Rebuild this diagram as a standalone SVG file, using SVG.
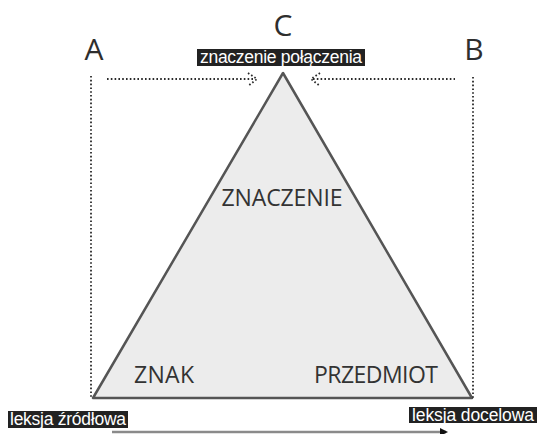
<svg xmlns="http://www.w3.org/2000/svg" width="537" height="434" viewBox="0 0 537 434">
  <style>
    .big { font-family: "Open Sans", "DejaVu Sans", sans-serif; font-size: 30px; fill: #2e2e2e; text-anchor: middle; }
    .term { font-family: "Open Sans", "DejaVu Sans", sans-serif; font-size: 23px; fill: #333; }
    .tag { font-family: "Liberation Sans", Arial, sans-serif; font-size: 17.5px; fill: #fff; }
    .tagbox { fill: #222; }
    .dots { fill: none; stroke: #2a2a2a; stroke-width: 1.8; stroke-dasharray: 1.6 2.2; }
  </style>
  <defs>
    <marker id="head" markerWidth="8" markerHeight="8" refX="6" refY="4" orient="auto" markerUnits="userSpaceOnUse">
      <path d="M0,0 L8,4 L0,8 Z" fill="#111"/>
    </marker>
  </defs>

  <!-- semantic triangle -->
  <g id="triangle">
    <polygon points="283,73 93,398 472,398" fill="#ececec" stroke="#555" stroke-width="2.5" stroke-linejoin="round"/>
    <text class="term" x="282" y="206" text-anchor="middle" textLength="121">ZNACZENIE</text>
    <text class="term" x="134" y="383" textLength="60">ZNAK</text>
    <text class="term" x="314" y="383" textLength="124">PRZEDMIOT</text>
  </g>

  <!-- corner letters -->
  <g id="label-a"><text class="big" x="94" y="60">A</text></g>
  <g id="label-b"><text class="big" x="474" y="60">B</text></g>
  <g id="label-c"><text class="big" x="283" y="36">C</text></g>

  <!-- tags -->
  <g id="tag-meaning">
    <rect class="tagbox" x="197" y="49" width="168" height="17"/>
    <text class="tag" x="200" y="63" textLength="162">znaczenie połączenia</text>
  </g>
  <g id="tag-source">
    <rect class="tagbox" x="8" y="411" width="120" height="17"/>
    <text class="tag" x="10" y="425" textLength="116">leksja źródłowa</text>
  </g>
  <g id="tag-target">
    <rect class="tagbox" x="409" y="407" width="128" height="16"/>
    <text class="tag" x="412" y="420.5" textLength="122">leksja docelowa</text>
  </g>

  <!-- connectors -->
  <g id="connectors">
    <line class="dots" x1="91" y1="76" x2="91" y2="398"/>
    <line class="dots" x1="473" y1="77" x2="473" y2="398"/>
    <line class="dots" x1="107" y1="79" x2="255" y2="79"/>
    <polyline class="dots" points="248,73 257,79 248,86"/>
    <line class="dots" x1="313" y1="79" x2="455" y2="79"/>
    <polyline class="dots" points="320,73 311,79 320,86"/>
    <line x1="112" y1="432" x2="446" y2="432" stroke="#8a8a8a" stroke-width="2.5" marker-end="url(#head)"/>
  </g>
</svg>
